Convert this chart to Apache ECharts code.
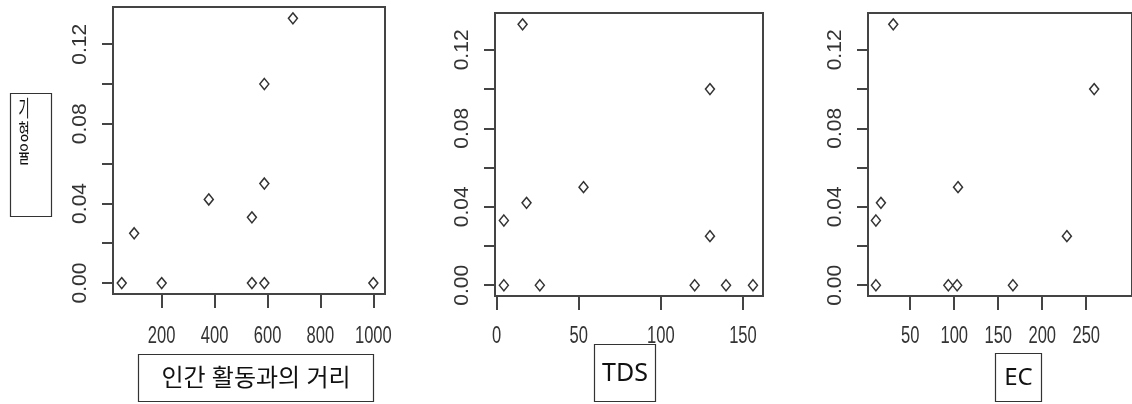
<!DOCTYPE html>
<html>
<head>
<meta charset="utf-8">
<script src="https://cdn.jsdelivr.net/npm/echarts@6/dist/echarts.min.js"></script>
<style>
html, body { margin: 0; padding: 0; background: #fff; }
#chart { width: 1132px; height: 404px; }
</style>
</head>
<body>
<div id="chart"></div>
<script>
// 인간 활동과의 거리 vs 기형율
var distX = [49, 96, 200, 378, 541, 541, 588, 588, 588, 696, 1000];
var distY = [0, 0.025, 0, 0.042, 0.033, 0, 0.050, 0.100, 0, 0.133, 0];
// TDS vs 기형율
var tdsX = [4.4, 4.4, 15.8, 18.2, 26.3, 52.9, 120.6, 129.9, 129.9, 139.7, 156.1];
var tdsY = [0, 0.033, 0.133, 0.042, 0, 0.050, 0, 0.100, 0.025, 0, 0];
// EC vs 기형율 (plot is cut off at the right edge)
var ecX = [11, 11, 16.7, 30.7, 93.3, 103.3, 104.3, 166.7, 228, 259];
var ecY = [0, 0.033, 0.042, 0.133, 0, 0, 0.050, 0, 0.025, 0.100];

var yTicks = [0, 0.02, 0.04, 0.06, 0.08, 0.10, 0.12];
var yLabels = [0, 0.04, 0.08, 0.12];
var distTicks = [200, 400, 600, 800, 1000];
var tdsTicks = [0, 50, 100, 150];
var ecTicks = [50, 100, 150, 200, 250];

var yTitle = ['기', '형', '율'];
var xTitles = ['인간 활동과의 거리', 'TDS', 'EC'];

var lineColor = '#444';
var textColor = '#333';
var boxFont = '"Noto Sans", "Noto Sans CJK KR", sans-serif';
var numFont = '"Liberation Sans", Arial, sans-serif';

function pairs(xs, ys) {
    return xs.map(function(x, i) { return [x, ys[i]]; });
}

function yAxisOf(i, min, max) {
    return {
        type: 'value', gridIndex: i, min: min, max: max,
        splitLine: { show: false },
        axisLine: { show: true, onZero: false, lineStyle: { color: lineColor, width: 2 } },
        axisTick: { show: true, length: 11, customValues: yTicks, lineStyle: { color: lineColor, width: 2 } },
        axisLabel: {
            customValues: yLabels, rotate: 90, margin: 22,
            fontFamily: numFont, fontSize: 21, color: textColor,
            formatter: function(v) { return v.toFixed(2); }
        }
    };
}

// x labels are condensed in the original; they are drawn below as scaled texts
function xAxisOf(i, min, max, ticks) {
    return {
        type: 'value', gridIndex: i, min: min, max: max,
        splitLine: { show: false },
        axisLine: { show: true, onZero: false, lineStyle: { color: lineColor, width: 2 } },
        axisTick: { show: true, length: 14, customValues: ticks, lineStyle: { color: lineColor, width: 2 } },
        axisLabel: { show: false }
    };
}

function scatterOf(i, data) {
    return {
        type: 'scatter', xAxisIndex: i, yAxisIndex: i,
        symbol: 'diamond', symbolSize: [9, 11],
        itemStyle: { color: '#fff', borderColor: '#333', borderWidth: 1.5, opacity: 1 },
        data: data
    };
}

function boxText(x, y, w, h, text, size) {
    return [{
        type: 'rect', shape: { x: x, y: y, width: w, height: h },
        style: { fill: '#fff', stroke: '#333', lineWidth: 1.2 }
    }, {
        type: 'text', x: x + w / 2, y: y + h / 2 + 1,
        style: { text: text, fontSize: size, fontFamily: boxFont, fill: '#111', align: 'center', verticalAlign: 'middle' }
    }];
}

var chart = echarts.init(document.getElementById('chart'));
var gridStyle = { show: true, borderColor: lineColor, borderWidth: 2, backgroundColor: 'transparent' };

var graphics = [{
    type: 'rect', shape: { x: 10.5, y: 93.5, width: 41, height: 123 },
    style: { fill: '#fff', stroke: '#333', lineWidth: 1.2 }
}];
yTitle.forEach(function(ch, k) {
    graphics.push({
        type: 'text', x: 24, y: 110 + k * 23, scaleX: 0.55,
        style: { text: ch, fontSize: 22, fontFamily: boxFont, fill: '#111', align: 'center', verticalAlign: 'middle' }
    });
});
graphics = graphics
    .concat(boxText(138.5, 354.5, 235, 47, xTitles[0], 24))
    .concat(boxText(594.5, 344.5, 61, 57, xTitles[1], 25))
    .concat(boxText(995.5, 353.5, 46, 48, xTitles[2], 24));

var option = {
    animation: false,
    backgroundColor: '#fff',
    grid: [
        Object.assign({ left: 113, top: 7, width: 272, height: 287 }, gridStyle),
        Object.assign({ left: 495, top: 13, width: 268, height: 283 }, gridStyle),
        Object.assign({ left: 868, top: 13, width: 300, height: 283 }, gridStyle)
    ],
    xAxis: [
        xAxisOf(0, 16, 1044, distTicks),
        xAxisOf(1, -1, 162.2, tdsTicks),
        xAxisOf(2, 2, 302, ecTicks)
    ],
    yAxis: [
        yAxisOf(0, -0.0055, 0.1387),
        yAxisOf(1, -0.0055, 0.1388),
        yAxisOf(2, -0.0055, 0.1388)
    ],
    series: [
        scatterOf(0, pairs(distX, distY)),
        scatterOf(1, pairs(tdsX, tdsY)),
        scatterOf(2, pairs(ecX, ecY))
    ],
    graphic: graphics
};

chart.setOption(option);

// condensed x tick labels, placed through the axis scale
[[0, distTicks], [1, tdsTicks], [2, ecTicks]].forEach(function(p) {
    p[1].forEach(function(v) {
        var px = chart.convertToPixel({ xAxisIndex: p[0] }, v);
        graphics.push({
            type: 'text', x: px, y: 337, scaleX: 0.72,
            style: { text: String(v), fontSize: 23, fontFamily: numFont, fill: textColor, align: 'center', verticalAlign: 'middle' }
        });
    });
});
chart.setOption({ graphic: graphics });
window.onresize = chart.resize;
</script>
</body>
</html>
